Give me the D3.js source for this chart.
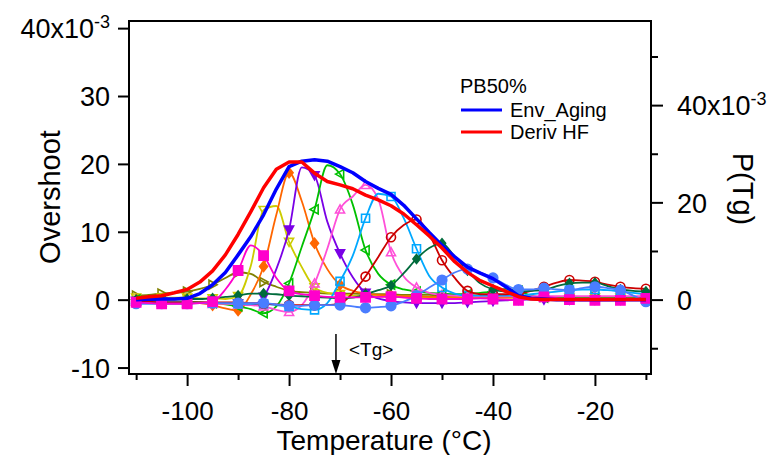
<!DOCTYPE html>
<html>
<head>
<meta charset="utf-8">
<script src="https://cdn.jsdelivr.net/npm/d3@7"></script>
<style>
  body { margin: 0; background: #fff; }
  svg text { font-family: "Liberation Sans", Arial, sans-serif; fill: #000; }
</style>
</head>
<body>
<svg id="chart" width="779" height="455"></svg>
<script>
// temperature grid (°C), markers drawn every 5 °C
var temps = [-110, -107.5, -105, -102.5, -100, -97.5, -95, -92.5, -90, -87.5, -85, -82.5, -80, -77.5, -75, -72.5,
  -70, -67.5, -65, -62.5, -60, -57.5, -55, -52.5, -50, -47.5, -45, -42.5, -40, -37.5, -35, -32.5,
  -30, -27.5, -25, -22.5, -20, -17.5, -15, -12.5, -10];

// overshoot curves (x10^-3), one per aging temperature
var olive = [0.6,0.7,0.9,1.0,1.2,1.6,2.2,3.2,4.0,3.8,2.6,1.9,1.3,1.1,1.0,0.9,0.9,0.9,0.8,0.8,0.8,0.7,0.7,0.7,0.6,0.6,0.6,0.5,0.5,0.5,0.5,0.4,0.4,0.4,0.4,0.4,0.4,0.3,0.3,0.3,0.3];
var magenta = [-0.4,-0.5,-0.6,-0.6,-0.6,-0.5,-0.3,1.5,4.3,8.0,6.5,3.2,1.3,0.8,0.6,0.4,0.35,0.35,0.35,0.4,0.45,0.3,0.2,0.1,0.1,0.1,0.1,0.2,0.1,0,-0.1,0.2,0.4,0.2,0,-0.1,-0.1,-0.1,-0.1,0.1,0.2];
var yellow = [0.3,0.3,0.3,0.3,0.3,0.2,0.2,0.1,0.5,5.0,13.2,13.8,8.5,4.8,1.8,1.0,0.8,0.6,0.5,0.5,0.4,0.4,0.3,0.3,0.3,0.3,0.3,0.3,0.3,0.3,0.3,0.3,0.3,0.3,0.3,0.3,0.3,0.3,0.3,0.3,0.3];
var orange = [0,-0.1,-0.2,-0.3,-0.3,-0.5,-0.8,-1.3,-1.6,0.8,4.9,12.5,18.7,14.5,8.3,4.5,2.2,1.3,0.9,0.7,0.6,0.5,0.5,0.4,0.4,0.4,0.4,0.3,0.3,0.3,0.3,0.3,0.3,0.3,0.3,0.3,0.3,0.3,0.3,0.3,0.3];
var purple = [-0.2,-0.2,-0.3,-0.3,-0.4,-0.4,-0.5,-0.5,-0.6,-0.8,0.4,4.5,10.3,19.5,18.3,11.5,6.8,3.3,1.0,0.2,-0.2,-0.4,-0.5,-0.5,-0.5,-0.5,-0.4,-0.3,-0.2,-0.1,0,0,0,0,0,0,0,0,0,0,0];
var green = [0,-0.1,-0.2,-0.3,-0.3,-0.4,-0.5,-0.7,-1.0,-1.4,-2.0,-1.0,2.4,7.8,13.3,19.8,18.5,14.0,7.3,3.8,2.2,1.5,1.2,1.0,0.9,0.8,0.8,1.0,1.2,1.6,1.3,0.6,0.3,0.3,0.3,0.3,0.3,0.3,0.3,0.3,0.3];
var pink = [-0.3,-0.3,-0.4,-0.4,-0.5,-0.5,-0.6,-0.6,-0.7,-0.8,-1.0,-1.5,-1.8,-0.8,2.4,7.5,13.3,15.2,16.9,14.8,7.0,3.4,1.8,1.0,0.7,0.6,0.5,0.5,0.5,0.5,0.5,0.5,0.5,0.5,0.5,0.5,0.5,0.5,0.5,0.5,0.5];
var lightblue = [-0.3,-0.3,-0.4,-0.4,-0.4,-0.5,-0.5,-0.5,-0.6,-0.6,-0.6,-0.8,-1.0,-1.4,-1.5,-0.5,2.7,6.5,12.0,15.6,15.2,12.0,7.5,3.5,1.8,0.9,0.6,0.6,0.6,0.6,0.6,0.8,1.0,1.2,1.4,1.5,1.5,1.4,1.2,1.0,0.8];
var darkred = [-0.3,-0.3,-0.4,-0.4,-0.4,-0.4,-0.4,-0.4,-0.4,-0.5,-0.6,-0.7,-0.8,-0.8,-0.8,-0.8,-0.6,1.0,3.4,6.3,9.2,11.0,11.8,9.6,5.8,3.2,1.3,0.8,0.8,0.8,0.9,1.3,1.9,2.5,2.9,2.8,2.65,2.2,1.9,1.7,1.6];
var darkgreen = [0,0,0,0.1,0.1,0.1,0.2,0.4,0.6,0.9,0.9,0.8,0.6,0.5,0.4,0.3,0.2,0.3,0.8,1.4,2.1,3.9,6.0,7.6,8.3,6.3,4.3,2.4,1.5,1.2,1.2,1.3,1.4,2.0,2.4,2.5,2.5,2.0,1.5,1.3,1.2];
var medblue = [-0.6,-0.6,-0.6,-0.6,-0.6,-0.5,-0.5,-0.5,-0.5,-0.5,-0.5,-0.7,-0.9,-0.9,-0.8,-0.8,-0.8,-1.0,-1.2,-1.1,-0.9,-0.3,0.6,1.8,2.9,4.0,4.5,4.0,3.2,2.2,1.5,1.5,1.7,1.5,1.4,1.7,1.9,1.7,1.4,0.6,-0.3];

// envelope (left axis) and derivative of heat flow (right axis, P(Tg) x10^-3)
var envAging = [0,0.05,0.1,0.1,0.2,0.9,2.2,4.0,6.6,9.3,12.5,16.3,19.6,20.4,20.6,20.4,19.6,18.7,17.4,16.4,15.5,13.9,11.9,9.9,8.0,6.3,4.8,3.9,3.1,1.9,0.6,0.2,0.1,0,0,0,0,0,0,0,0];
var derivHF = [0.3,0.6,0.8,1.4,2.1,3.6,5.9,9.2,13.4,18.1,23.0,26.8,28.3,28.3,26.0,24.3,23.6,22.8,21.5,20.5,19.3,17.6,15.4,13.1,10.6,7.8,5.6,3.9,2.8,1.7,0.6,0.1,0,0,0,0,0,0,0,0,0];

var xMajor = [-100, -80, -60, -40, -20];
var xMinor = [-110, -90, -70, -50, -30, -10];
var yLeftTicks = [-10, 0, 10, 20, 30, 40];
var yRightMajor = [0, 20, 40];
var yRightMinor = [-10, 10, 30, 50];
var tgTemp = -70.8;

var svg = d3.select("#chart");

var x = d3.scaleLinear().domain([-111.4, -9.0]).range([129, 651]);
var yL = d3.scaleLinear().domain([-10.95, 41.05]).range([374, 21]);
var yR = d3.scaleLinear().domain([-15.3, 57.3]).range([374, 21]);

function markerPath(type, r) {
  var c = "M" + r + ",0A" + r + "," + r + " 0 1,1 " + (-r) + ",0A" + r + "," + r + " 0 1,1 " + r + ",0Z";
  switch (type) {
    case "square": return "M" + (-r) + "," + (-r) + "H" + r + "V" + r + "H" + (-r) + "Z";
    case "circle": return c;
    case "diamond": return "M0," + (-r * 1.25) + "L" + r + ",0L0," + (r * 1.25) + "L" + (-r) + ",0Z";
    case "up": return "M0," + (-r) + "L" + r + "," + (r * 0.8) + "L" + (-r) + "," + (r * 0.8) + "Z";
    case "down": return "M0," + r + "L" + r + "," + (-r * 0.8) + "L" + (-r) + "," + (-r * 0.8) + "Z";
    case "left": return "M" + (-r) + ",0L" + (r * 0.8) + "," + (-r) + "L" + (r * 0.8) + "," + r + "Z";
    case "right": return "M" + r + ",0L" + (-r * 0.8) + "," + (-r) + "L" + (-r * 0.8) + "," + r + "Z";
  }
  return c;
}

// drawing order: later ones on top
var curves = [
  { vals: olive, color: "#808000", mark: "right", filled: false, r: 4.5 },
  { vals: yellow, color: "#cccc00", mark: "down", filled: false, r: 4.5 },
  { vals: orange, color: "#ff6600", mark: "diamond", filled: true, r: 4 },
  { vals: purple, color: "#7a00e6", mark: "down", filled: true, r: 4.5 },
  { vals: green, color: "#00c000", mark: "left", filled: false, r: 4.5 },
  { vals: pink, color: "#ff4fd8", mark: "up", filled: false, r: 4.5 },
  { vals: lightblue, color: "#00a8ff", mark: "square", filled: false, r: 4 },
  { vals: darkred, color: "#cc0000", mark: "circle", filled: false, r: 4.5 },
  { vals: darkgreen, color: "#006b3c", mark: "diamond", filled: true, r: 3.6 },
  { vals: medblue, color: "#4a7dff", mark: "circle", filled: true, r: 4.8 },
  { vals: magenta, color: "#ff00cc", mark: "square", filled: true, r: 4.6 }
];

var plot = svg.append("g");

curves.forEach(function (c) {
  var pts = temps.map(function (t, i) { return [t, c.vals[i]]; });
  var line = d3.line()
    .x(function (d) { return x(d[0]); })
    .y(function (d) { return yL(d[1]); })
    .curve(d3.curveMonotoneX);
  plot.append("path")
    .datum(pts)
    .attr("d", line)
    .attr("fill", "none")
    .attr("stroke", c.color)
    .attr("stroke-width", 1.8);
  plot.selectAll(null)
    .data(pts.filter(function (d, i) { return i % 2 === 0; }))
    .join("path")
    .attr("transform", function (d) { return "translate(" + x(d[0]) + "," + yL(d[1]) + ")"; })
    .attr("d", markerPath(c.mark, c.r))
    .attr("fill", c.filled ? c.color : "none")
    .attr("stroke", c.color)
    .attr("stroke-width", 1.6);
});

// thick lines
plot.append("path")
  .datum(envAging)
  .attr("d", d3.line().x(function (d, i) { return x(temps[i]); }).y(function (d) { return yL(d); }))
  .attr("fill", "none")
  .attr("stroke", "#0000ff")
  .attr("stroke-width", 3.5)
  .attr("stroke-linejoin", "round");

plot.append("path")
  .datum(derivHF)
  .attr("d", d3.line().x(function (d, i) { return x(temps[i]); }).y(function (d) { return yR(d); }))
  .attr("fill", "none")
  .attr("stroke", "#ff0000")
  .attr("stroke-width", 3.5)
  .attr("stroke-linejoin", "round");

// frame
svg.append("rect")
  .attr("x", 129).attr("y", 21)
  .attr("width", 651 - 129).attr("height", 374 - 21)
  .attr("fill", "none").attr("stroke", "#000").attr("stroke-width", 2);

// bottom axis
var gx = svg.append("g").attr("transform", "translate(0,374)");
gx.call(d3.axisBottom(x).tickValues(xMajor).tickSize(12).tickSizeOuter(0).tickFormat(function (d) { return String(d); }));
gx.append("g").call(d3.axisBottom(x).tickValues(xMinor).tickSize(6).tickSizeOuter(0).tickFormat(""));
gx.selectAll(".domain").remove();
gx.selectAll("line").attr("stroke-width", 2);
gx.selectAll("text").attr("y", 46).attr("dy", null).style("font-size", "26px");

// left axis
var gl = svg.append("g").attr("transform", "translate(129,0)");
gl.call(d3.axisLeft(yL).tickValues(yLeftTicks).tickSize(11).tickSizeOuter(0).tickFormat(function (d) { return String(d); }));
gl.select(".domain").remove();
gl.selectAll("line").attr("stroke-width", 2);
gl.selectAll("text").attr("x", -19).attr("dy", "0.36em").style("font-size", "27px")
  .each(function (d) {
    if (d === 40) {
      var t = d3.select(this).text("40x10");
      t.append("tspan").attr("dy", "-0.55em").style("font-size", "18px").text("-3");
    }
  });

// right axis
var gr = svg.append("g").attr("transform", "translate(651,0)");
gr.call(d3.axisRight(yR).tickValues(yRightMajor).tickSize(12).tickSizeOuter(0).tickFormat(function (d) { return String(d); }));
gr.append("g").call(d3.axisRight(yR).tickValues(yRightMinor).tickSize(7).tickSizeOuter(0).tickFormat(""));
gr.selectAll(".domain").remove();
gr.selectAll("line").attr("stroke-width", 2);
gr.selectAll("text").attr("x", 26).attr("dy", "0.36em").style("font-size", "27px")
  .each(function (d) {
    if (d === 40) {
      var t = d3.select(this).text("40x10");
      t.append("tspan").attr("dy", "-0.55em").style("font-size", "18px").text("-3");
    }
  });

svg.selectAll(".tick text").attr("fill", "#000");

// axis titles
svg.append("text")
  .attr("transform", "translate(60,197) rotate(-90)")
  .attr("text-anchor", "middle")
  .style("font-size", "29px")
  .text("Overshoot");

svg.append("text")
  .attr("transform", "translate(733,189) rotate(90)")
  .attr("text-anchor", "middle")
  .style("font-size", "29px")
  .text("P(Tg)");

svg.append("text")
  .attr("x", 384).attr("y", 450)
  .attr("text-anchor", "middle")
  .style("font-size", "28px")
  .text("Temperature (°C)");

// legend
var legend = svg.append("g");
legend.append("text").attr("x", 460).attr("y", 93).style("font-size", "20px").text("PB50%");
var legendItems = [
  { label: "Env_Aging", color: "#0000ff" },
  { label: "Deriv HF", color: "#ff0000" }
];
legendItems.forEach(function (it, i) {
  var yy = 110 + i * 22;
  legend.append("line")
    .attr("x1", 461).attr("x2", 502).attr("y1", yy).attr("y2", yy)
    .attr("stroke", it.color).attr("stroke-width", 3);
  legend.append("text").attr("x", 510).attr("y", yy + 7).style("font-size", "20px").text(it.label);
});

// <Tg> arrow
var ax = x(tgTemp);
svg.append("line")
  .attr("x1", ax).attr("x2", ax)
  .attr("y1", 334).attr("y2", 362)
  .attr("stroke", "#000").attr("stroke-width", 1.5);
svg.append("path")
  .attr("d", "M" + (ax - 4.5) + ",360L" + (ax + 4.5) + ",360L" + ax + ",374Z")
  .attr("fill", "#000");
svg.append("text")
  .attr("x", 349).attr("y", 356)
  .style("font-size", "19px")
  .text("<Tg>");
</script>
</body>
</html>
